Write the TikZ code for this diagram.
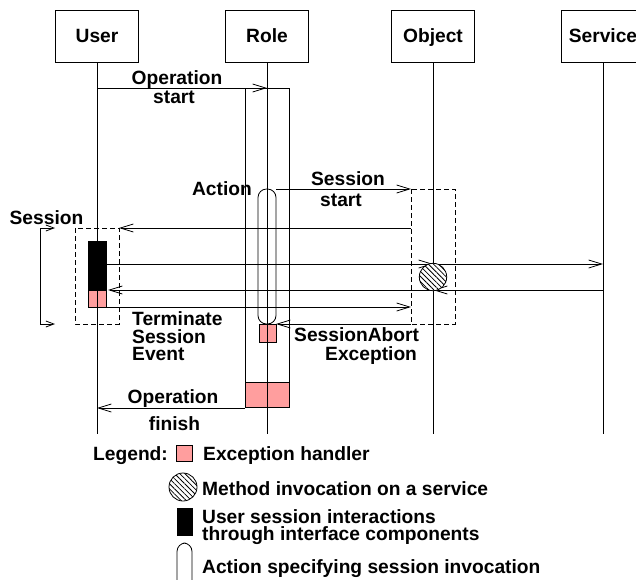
\documentclass[tikz,border=0pt]{standalone}
\usepackage{fontspec}
\setmainfont{Liberation Sans}
\usetikzlibrary{arrows.meta,patterns.meta}
\definecolor{handler}{RGB}{255,158,158}
\tikzset{
  lbl/.style={font=\bfseries\fontsize{19.2}{19.2}\selectfont, inner sep=0pt},
  tight/.style={text height=12pt, text depth=0pt},
  actor/.style={lbl, draw, line width=0.9pt, minimum width=83pt, minimum height=52pt,
    text height=13.5pt, text depth=0pt},
  life/.style={line width=0.8pt},
  frame/.style={draw, line width=0.8pt},
  msg/.style={line width=0.8pt, -{Straight Barb[length=13pt,width=8pt,line width=0.8pt]}},
  brk/.style={line width=0.8pt, {Straight Barb[length=8pt,width=6pt,line width=0.8pt]}-{Straight Barb[length=8pt,width=6pt,line width=0.8pt]}},
  dashbox/.style={draw, line width=0.8pt, dash pattern=on 5pt off 3pt},
  handlerbox/.style={draw, fill=handler, line width=0.8pt},
  userbox/.style={draw, fill=black, line width=0.8pt},
  actionbox/.style={draw, line width=0.8pt, rounded corners=8.5pt},
  service call/.style={draw, fill=white, line width=0.8pt,
    postaction={pattern={Lines[angle=-45,distance=3.6pt,line width=0.8pt]}}},
}
\begin{document}
\begin{tikzpicture}[x=1pt,y=-1pt]
\useasboundingbox (0,0) rectangle (636,579);
\clip (0,0) rectangle (636,579);

% participants
\node[actor] (user)    at (97,36)  {User};
\node[actor] (role)    at (267,36) {Role};
\node[actor] (object)  at (433,36) {Object};
\node[actor] (service) at (603,36) {Service};

% exception handler fills (lifelines stay visible through them)
\fill[handler] (245,382) rectangle (289,407);
\fill[handler] (259,324) rectangle (276,342);
\fill[handler] (88,290) rectangle (106,307);

% lifelines
\coordinate (userEnd)    at (97,434);
\coordinate (roleEnd)    at (267,434);
\coordinate (objectEnd)  at (433,434);
\coordinate (serviceEnd) at (603,434);
\draw[life] (user.south)    -- (userEnd);
\draw[life] (role.south)    -- (roleEnd);
\draw[life] (object.south)  -- (objectEnd);
\draw[life] (service.south) -- (serviceEnd);

% operation activation on the role
\draw[frame] (245,88) rectangle (289,407);
\draw[frame] (245,382) rectangle (289,407);
\draw[frame] (259,324) rectangle (276,342);

% action specifying the session invocation
\draw[actionbox] (258,324) -- (258,189) -- (276,189) -- (276,324) -- cycle;

% session frames
\draw[dashbox] (411,189) rectangle (455,324);
\draw[dashbox] (75,228) rectangle (119,324);

% user session interactions
\draw[userbox] (88,241) rectangle (106,290);
\draw[frame] (88,290) rectangle (106,307);

% session bracket
\coordinate (brkTop) at (55,228);
\coordinate (brkBot) at (55,324);
\draw[brk] (brkTop) -- (40,228) -- (40,324) -- (brkBot);

% messages
\coordinate (opStartA) at (97,88);
\coordinate (opStartB) at (267,88);
\draw[msg] (opStartA) -- (opStartB);

\coordinate (ssA) at (276,189);
\coordinate (ssB) at (411,189);
\draw[msg] (ssA) -- (ssB);

\coordinate (objOut) at (411,228);
\coordinate (userIn) at (119,228);
\draw[msg] (objOut) -- (userIn);

\coordinate (uiOut) at (106,264);
\coordinate (objIn) at (433,264);
\coordinate (svcIn) at (603,264);
\draw[msg] (uiOut) -- (objIn);
\draw[msg] (objIn) -- (svcIn);

\coordinate (svcOut) at (603,290);
\coordinate (objBack) at (433,290);
\coordinate (uiIn) at (108,290);
\draw[msg] (svcOut) -- (objBack);
\draw[msg] (objBack) -- (uiIn);

\coordinate (termA) at (106,307);
\coordinate (termB) at (411,307);
\draw[msg] (termA) -- (termB);

\coordinate (abortA) at (411,324);
\coordinate (abortB) at (276,324);
\draw[msg] (abortA) -- (abortB);

\coordinate (finA) at (245,408);
\coordinate (finB) at (97,408);
\draw[msg] (finA) -- (finB);

% method invocation on the service
\path[service call] (433,277) circle (13.7);

% labels
\node[lbl, anchor=base] (l1) at (177,84) {Operation};
\node[lbl, anchor=base] (l2) at (174,103) {start};
\node[lbl, anchor=base east] (l3) at (252,195) {Action};
\node[lbl, anchor=base] (l4) at (348,185) {Session};
\node[lbl, anchor=base] (l5) at (341,206) {start};
\node[lbl, anchor=base] (l6) at (46.5,224) {Session};
\node[lbl, tight, anchor=base west] (l7) at (132,325) {Terminate};
\node[lbl, tight, anchor=base west] (l8) at (132,343) {Session};
\node[lbl, tight, anchor=base west] (l9) at (132,360) {Event};
\node[lbl, tight, anchor=base west] (l10) at (294,341) {SessionAbort};
\node[lbl, tight, anchor=base west] (l11) at (325,360) {Exception};
\node[lbl, anchor=base] (l12) at (173,403) {Operation};
\node[lbl, anchor=base] (l13) at (174.5,430) {finish};

% legend
\node[lbl, anchor=base west] (lg) at (93,460) {Legend:};
\draw[handlerbox] (176,445) rectangle (192,461);
\node[lbl, anchor=base west] (lg1) at (203,460) {Exception handler};
\path[service call] (183,487) circle (14);
\node[lbl, anchor=base west] (lg2) at (202,495) {Method invocation on a service};
\draw[userbox] (177,508) rectangle (192,535);
\node[lbl, tight, anchor=base west] (lg3) at (202,523) {User session interactions};
\node[lbl, tight, anchor=base west] (lg4) at (202,540) {through interface components};
\draw[actionbox] (177,600) -- (177,543) -- (192,543) -- (192,600) -- cycle;
\node[lbl, anchor=base west] (lg5) at (202,573) {Action specifying session invocation};
\end{tikzpicture}
\end{document}
